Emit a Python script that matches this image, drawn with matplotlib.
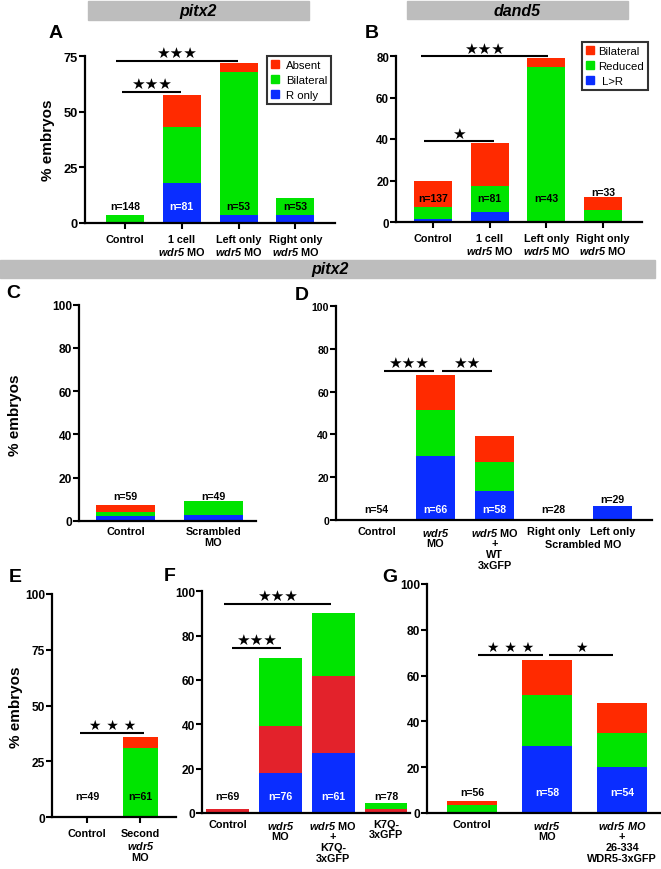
import matplotlib
matplotlib.use('Agg')
import matplotlib.pyplot as plt
from matplotlib.patches import Rectangle, Patch
import numpy as np

plt.rcParams['font.family'] = ['Liberation Sans', 'DejaVu Sans']
plt.rcParams['font.weight'] = 'bold'
plt.rcParams['mathtext.fontset'] = 'custom'
plt.rcParams['mathtext.sf'] = 'Liberation Sans:bold:italic'
plt.rcParams['mathtext.rm'] = 'Liberation Sans:bold'

RED = '#ff2a00'
RED_F = '#e3222b'
GREEN = '#00e400'
BLUE = '#0a2dff'

# ---- data ----
a_cats = ['Control', '1 cell\n$\\mathsf{wdr5}$ MO', 'Left only\n$\\mathsf{wdr5}$ MO', 'Right only\n$\\mathsf{wdr5}$ MO']
a_r_only = [0, 18.0, 3.7, 3.7]
a_bilateral = [3.5, 25.1, 64.3, 7.5]
a_absent = [0, 14.5, 3.7, 0]
a_n = ['n=148', 'n=81', 'n=53', 'n=53']

b_cats = ['Control', '1 cell\n$\\mathsf{wdr5}$ MO', 'Left only\n$\\mathsf{wdr5}$ MO', 'Right only\n$\\mathsf{wdr5}$ MO']
b_l_gt_r = [1.4, 5.0, 0, 0]
b_reduced = [5.7, 12.2, 74.6, 5.9]
b_bilateral = [12.5, 20.9, 4.3, 6.1]
b_n = ['n=137', 'n=81', 'n=43', 'n=33']

c_cats = ['Control', 'Scrambled\nMO']
c_blue = [2.3, 2.5]
c_green = [1.5, 6.4]
c_red = [3.4, 0]
c_n = ['n=59', 'n=49']

d_cats = ['Control', '$\\mathsf{wdr5}$\nMO', '$\\mathsf{wdr5}$ MO\n+\nWT\n3xGFP', 'Right only', 'Left only']
d_blue = [0, 30.0, 13.4, 0, 6.4]
d_green = [0, 21.2, 13.9, 0, 0]
d_red = [0, 16.7, 12.1, 0, 0]
d_n = ['n=54', 'n=66', 'n=58', 'n=28', 'n=29']

e_cats = ['Control', 'Second\n$\\mathsf{wdr5}$\nMO']
e_green = [0, 31.1]
e_red = [0, 4.8]
e_n = ['n=49', 'n=61']

f_cats = ['Control', '$\\mathsf{wdr5}$\nMO', '$\\mathsf{wdr5}$ MO\n+\nK7Q-\n3xGFP', 'K7Q-\n3xGFP']
f_blue = [0, 17.9, 27.1, 0]
f_red = [2.0, 21.5, 34.6, 2.0]
f_green = [0, 30.5, 28.4, 2.5]
f_n = ['n=69', 'n=76', 'n=61', 'n=78']

g_cats = ['Control', '$\\mathsf{wdr5}$\nMO', '$\\mathsf{wdr5\\ MO}$\n+\n26-334\nWDR5-3xGFP']
g_blue = [0, 29.1, 20.2]
g_green = [3.5, 22.4, 14.9]
g_red = [1.9, 15.5, 12.9]
g_n = ['n=56', 'n=58', 'n=54']

W, H = 661, 870
fig = plt.figure(figsize=(W / 100, H / 100), dpi=100)


def fx(px):
    return px / W


def fy(py):
    return 1 - py / H


def make_ax(l, r, t, b, xlim, ylim, yticks, cats, xticks=False, ysize=8.6):
    ax = fig.add_axes([fx(l), fy(b), (r - l) / W, (b - t) / H])
    ax.set_xlim(*xlim)
    ax.set_ylim(*ylim)
    ax.set_yticks(yticks)
    ax.set_xticks(range(len(cats)))
    ax.set_xticklabels(cats, fontsize=7.8, linespacing=1.1)
    for s in ['top', 'right']:
        ax.spines[s].set_visible(False)
    for s in ['left', 'bottom']:
        ax.spines[s].set_linewidth(1.6)
    ax.tick_params(axis='y', length=4, width=1.5, labelsize=ysize, pad=1)
    ax.tick_params(axis='x', length=4 if xticks else 0, width=1.5, pad=4)
    ax.patch.set_alpha(0)
    return ax


def stack(ax, layers, width):
    n = len(layers[0][0])
    bottom = np.zeros(n)
    for vals, col in layers:
        v = np.array(vals, dtype=float)
        ax.bar(np.arange(n), v, width, bottom=bottom, color=col, linewidth=0)
        bottom += v


def nlabels(ax, labels, ys, colors):
    for i, (t, y, c) in enumerate(zip(labels, ys, colors)):
        ax.text(i, y, t, ha='center', va='center', fontsize=7.6, color=c)


def sig(ax, x0, x1, y, stars, size=11):
    ax.plot([x0, x1], [y, y], color='black', lw=1.5, clip_on=False, solid_capstyle='butt')
    ax.annotate(stars, xy=((x0 + x1) / 2, y), xytext=(0, 0.5), textcoords='offset points',
                ha='center', va='bottom', fontsize=size, family=['DejaVu Sans'], annotation_clip=False)


def ylab(ax, x_px, y_px):
    fig.text(fx(x_px), fy(y_px), '% embryos', rotation=90, ha='center', va='center', fontsize=11)


def letter(t, x_px, y_px):
    fig.text(fx(x_px), fy(y_px), t, ha='center', va='center', fontsize=14)


def grey_bar(l, r, t, b, label, cx):
    fig.patches.append(Rectangle((fx(l), fy(b)), (r - l) / W, (b - t) / H,
                                 transform=fig.transFigure, color='#bdbdbd', zorder=0))
    fig.text(fx(cx), fy((t + b) / 2), label, ha='center', va='center', fontsize=11.5, style='italic')


def legend(ax, labels, x_px, y_px, pad):
    leg = ax.legend([Patch(color=RED), Patch(color=GREEN), Patch(color=BLUE)], labels,
                    loc='upper left', bbox_to_anchor=(fx(x_px), fy(y_px)),
                    bbox_transform=fig.transFigure,
                    prop={'weight': 'normal', 'size': 8.2}, handlelength=0.7, handleheight=0.7,
                    handletextpad=pad, borderpad=0.35, labelspacing=0.45, fancybox=False,
                    borderaxespad=0)
    leg.get_frame().set_edgecolor('black')
    leg.get_frame().set_linewidth(1.5)


# title bars
grey_bar(88, 309, 2, 21, 'pitx2', 198)
grey_bar(407, 628, 2, 20, 'dand5', 517)
grey_bar(0, 655, 261, 279, 'pitx2', 330)

# ---- A ----
ax = make_ax(85, 335, 57, 224, (-0.705, 3.70), (0, 75), [0, 25, 50, 75], a_cats, xticks=True, ysize=9.3)
stack(ax, [(a_r_only, BLUE), (a_bilateral, GREEN), (a_absent, RED)], 0.67)
nlabels(ax, a_n, [7.6] * 4, ['black', 'white', 'black', 'black'])
sig(ax, -0.05, 0.99, 58.8, '★★★')
sig(ax, -0.16, 1.99, 72.8, '★★★')
ylab(ax, 48, 140)
letter('A', 56, 33)
legend(ax, ['Absent', 'Bilateral', 'R only'], 267, 57, 0.6)

# ---- B ----
ax = make_ax(396, 642, 57, 223, (-0.653, 3.686), (0, 80), [0, 20, 40, 60, 80], b_cats, xticks=True, ysize=8.3)
stack(ax, [(b_l_gt_r, BLUE), (b_reduced, GREEN), (b_bilateral, RED)], 0.67)
nlabels(ax, b_n, [11.6, 11.6, 11.6, 14.5], ['black'] * 4)
sig(ax, -0.16, 1.08, 38.9, '★')
sig(ax, -0.21, 2.03, 79.9, '★★★')
letter('B', 372, 33)
legend(ax, ['Bilateral', 'Reduced', ' L>R'], 582, 43, 0.4)

# ---- C ----
ax = make_ax(79, 256, 305.7, 521.7, (-0.528, 1.483), (0, 100), range(0, 101, 20), c_cats)
stack(ax, [(c_blue, BLUE), (c_green, GREEN), (c_red, RED)], 0.67)
nlabels(ax, c_n, [11.6, 11.6], ['black'] * 2)
ylab(ax, 15, 415)
letter('C', 13, 294)

# ---- D ----
ax = make_ax(336, 652, 307, 521, (-0.686, 4.67), (0, 100), range(0, 101, 20), d_cats, ysize=7.6)
stack(ax, [(d_blue, BLUE), (d_green, GREEN), (d_red, RED)], 0.66)
nlabels(ax, d_n, [5.1, 5.1, 5.1, 5.1, 9.8], ['black', 'white', 'white', 'black', 'black'])
sig(ax, 0.13, 0.97, 69.8, '★★★')
sig(ax, 1.11, 1.96, 69.6, '★★')
ax.text(3.5, -11.4, 'Scrambled MO', ha='center', va='center', fontsize=7.8)
letter('D', 302, 296)

# ---- E ----
ax = make_ax(52, 176, 595, 818.3, (-0.654, 1.664), (0, 100), [0, 25, 50, 75, 100], e_cats, xticks=True)
stack(ax, [(e_green, GREEN), (e_red, RED)], 0.654)
nlabels(ax, e_n, [9.5, 9.5], ['black'] * 2)
sig(ax, -0.13, 1.07, 37.7, '★ ★ ★', size=10)
ylab(ax, 16, 707)
letter('E', 15, 578)

# ---- F ----
ax = make_ax(202, 410, 592.3, 814, (-0.483, 3.456), (0, 100), range(0, 101, 20), f_cats)
stack(ax, [(f_blue, BLUE), (f_red, RED_F), (f_green, GREEN)], 0.81)
nlabels(ax, f_n, [7.8] * 4, ['black', 'white', 'white', 'black'])
sig(ax, 0.085, 1.01, 74.4, '★★★')
sig(ax, -0.066, 1.96, 94.3, '★★★')
letter('F', 170, 577)

# ---- G ----
ax = make_ax(427, 661, 585, 814, (-0.6, 2.52), (0, 100), range(0, 101, 20), g_cats)
stack(ax, [(g_blue, BLUE), (g_green, GREEN), (g_red, RED)], 0.667)
nlabels(ax, g_n, [9.0] * 3, ['black', 'white', 'white'])
sig(ax, 0.08, 0.95, 69.0, '★ ★ ★', size=10)
sig(ax, 1.03, 1.88, 69.0, '★', size=10)
letter('G', 390, 578)

fig.savefig('out.png', dpi=100)
